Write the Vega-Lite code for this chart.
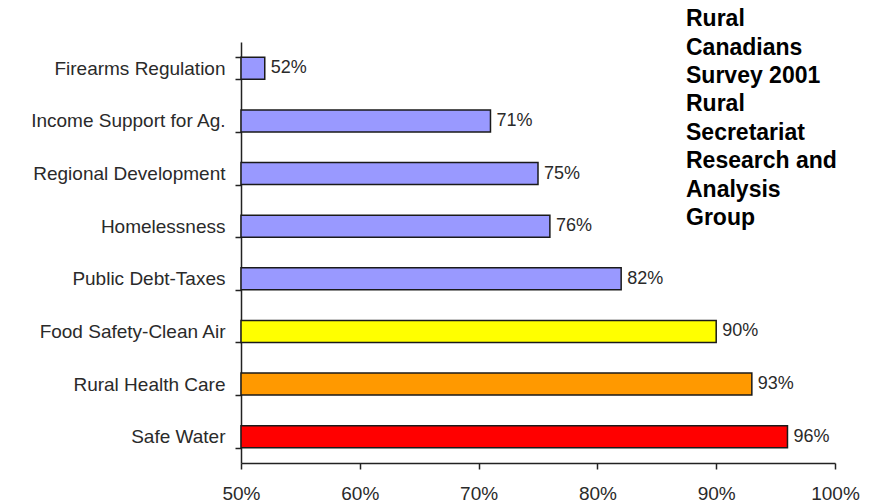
{
  "$schema": "https://vega.github.io/schema/vega-lite/v6.json",
  "autosize": {"type": "none"},
  "width": 594,
  "height": 421,
  "padding": {"left": 241, "top": 42, "right": 39, "bottom": 41},
  "background": "white",
  "config": {
    "view": {"stroke": null},
    "font": "Liberation Sans"
  },
  "title": {
    "text": ["Rural", "Canadians", "Survey 2001", "Rural", "Secretariat", "Research and", "Analysis", "Group"],
    "anchor": "start",
    "frame": "group",
    "align": "left",
    "dx": 445,
    "dy": 197,
    "offset": 0,
    "fontSize": 23,
    "fontWeight": "bold",
    "lineHeight": 28.4,
    "color": "#000000",
    "font": "Liberation Sans"
  },
  "data": {
    "values": [
      {"issue": "Firearms Regulation", "share": 0.52},
      {"issue": "Income Support for Ag.", "share": 0.71},
      {"issue": "Regional Development", "share": 0.75},
      {"issue": "Homelessness", "share": 0.76},
      {"issue": "Public Debt-Taxes", "share": 0.82},
      {"issue": "Food Safety-Clean Air", "share": 0.90},
      {"issue": "Rural Health Care", "share": 0.93},
      {"issue": "Safe Water", "share": 0.96}
    ]
  },
  "encoding": {
    "y": {
      "field": "issue",
      "type": "nominal",
      "sort": null,
      "title": null,
      "scale": {"paddingInner": 0.58, "paddingOuter": 0.29},
      "axis": {
        "tickBand": "extent",
        "domainColor": "#222222",
        "domainWidth": 1.5,
        "tickColor": "#222222",
        "tickWidth": 1.5,
        "tickSize": 6,
        "labelFontSize": 19,
        "labelLimit": 0,
        "labelColor": "#2a2a2a",
        "labelPadding": 10,
        "labelFont": "Liberation Sans"
      }
    },
    "x": {
      "field": "share",
      "type": "quantitative",
      "title": null,
      "scale": {"domain": [0.5, 1], "zero": false, "nice": false},
      "axis": {
        "format": ".0%",
        "values": [0.5, 0.6, 0.7, 0.8, 0.9, 1.0],
        "grid": false,
        "labelFlush": false,
        "domainColor": "#222222",
        "domainWidth": 1.5,
        "tickColor": "#222222",
        "tickWidth": 1.5,
        "tickSize": 6,
        "labelFontSize": 19,
        "labelColor": "#2a2a2a",
        "labelPadding": 15,
        "labelFont": "Liberation Sans"
      }
    }
  },
  "layer": [
    {
      "mark": {"type": "bar", "stroke": "#1a1a1a", "strokeWidth": 1.5},
      "encoding": {
        "x2": {"datum": 0.5},
        "color": {
          "field": "issue",
          "type": "nominal",
          "legend": null,
          "scale": {
            "domain": ["Firearms Regulation", "Income Support for Ag.", "Regional Development", "Homelessness", "Public Debt-Taxes", "Food Safety-Clean Air", "Rural Health Care", "Safe Water"],
            "range": ["#9999ff", "#9999ff", "#9999ff", "#9999ff", "#9999ff", "#ffff00", "#ff9900", "#ff0000"]
          }
        }
      }
    },
    {
      "mark": {"type": "text", "align": "left", "dx": 6, "fontSize": 18, "color": "#2a2a2a", "font": "Liberation Sans"},
      "encoding": {
        "text": {"field": "share", "type": "quantitative", "format": ".0%"}
      }
    }
  ]
}
